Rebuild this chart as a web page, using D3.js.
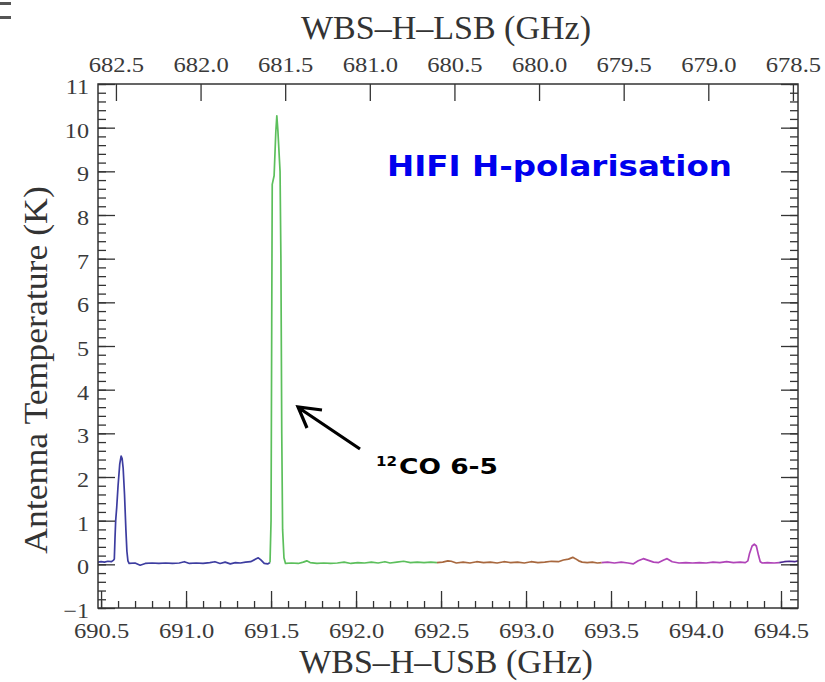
<!DOCTYPE html>
<html>
<head>
<meta charset="utf-8">
<script src="https://cdn.jsdelivr.net/npm/d3@7"></script>
<style>
  body { margin: 0; background: #fff; }
</style>
</head>
<body>
<div id="chart"></div>
<script>
// spectrum pieces, [USB frequency (GHz), antenna temperature (K)]
const bandBlue = [
  [690.482,0.05],[690.50,0.06],[690.52,0.05],[690.54,0.07],[690.56,0.06],[690.572,0.09],[690.578,0.12],
  [690.582,0.6],[690.586,1.0],[690.592,1.3],[690.600,1.8],[690.610,2.3],[690.618,2.48],[690.624,2.42],
  [690.630,2.2],[690.638,1.6],[690.646,0.8],[690.652,0.3],[690.658,0.08],[690.665,0.02],[690.70,0.03],
  [690.73,-0.02],[690.76,0.02],[690.80,0.03],[690.84,0.02],[690.88,0.03],[690.92,0.02],[690.96,0.03],
  [690.99,0.06],[691.02,0.02],[691.06,0.03],[691.10,0.02],[691.14,0.04],[691.17,0.06],[691.20,0.02],
  [691.23,0.05],[691.26,0.01],[691.29,0.04],[691.32,0.03],[691.35,0.05],[691.38,0.06],[691.41,0.12],
  [691.425,0.15],[691.44,0.10],[691.46,0.02],[691.48,0.01],[691.494,0.04]
];
const bandGreen = [
  [691.494,0.04],[691.500,1.0],[691.504,5.5],[691.507,8.7],[691.518,8.9],[691.528,9.9],[691.534,10.27],
  [691.540,9.95],[691.553,9.0],[691.558,7.0],[691.563,3.0],[691.568,0.8],[691.576,0.15],[691.585,0.02],
  [691.62,0.03],[691.66,0.02],[691.69,0.05],[691.71,0.08],[691.73,0.04],[691.77,0.02],[691.81,0.03],
  [691.85,0.02],[691.89,0.03],[691.93,0.05],[691.97,0.02],[692.01,0.04],[692.05,0.03],[692.09,0.05],
  [692.13,0.03],[692.17,0.06],[692.20,0.03],[692.24,0.05],[692.28,0.07],[692.32,0.04],[692.36,0.05],
  [692.40,0.04],[692.44,0.05],[692.476,0.04]
];
const bandOrange = [
  [692.476,0.04],[692.51,0.05],[692.54,0.08],[692.56,0.07],[692.59,0.03],[692.63,0.05],[692.67,0.03],
  [692.71,0.06],[692.75,0.04],[692.79,0.05],[692.83,0.03],[692.87,0.06],[692.91,0.04],[692.95,0.05],
  [692.99,0.03],[693.03,0.06],[693.07,0.04],[693.11,0.05],[693.15,0.07],[693.19,0.06],[693.22,0.10],
  [693.25,0.12],[693.275,0.16],[693.29,0.13],[693.31,0.08],[693.33,0.05],[693.36,0.04],[693.39,0.05],
  [693.42,0.03],[693.445,0.04]
];
const bandMagenta = [
  [693.445,0.04],[693.48,0.05],[693.52,0.03],[693.56,0.05],[693.60,0.03],[693.63,0.01],[693.66,0.08],
  [693.69,0.13],[693.72,0.09],[693.75,0.05],[693.78,0.04],[693.81,0.10],[693.83,0.13],[693.86,0.06],
  [693.90,0.03],[693.94,0.04],[693.98,0.03],[694.02,0.04],[694.06,0.03],[694.10,0.05],[694.14,0.04],
  [694.18,0.06],[694.22,0.04],[694.26,0.05],[694.29,0.04],[694.305,0.08],[694.315,0.25],[694.33,0.42],
  [694.343,0.46],[694.355,0.42],[694.368,0.2],[694.378,0.06],[694.39,0.03],[694.42,0.04],[694.46,0.03],
  [694.49,0.04]
];
const bandIndigo = [[694.49,0.04],[694.52,0.06],[694.55,0.07],[694.58,0.06],[694.60,0.08]];

const usbTicks = [690.5, 691.0, 691.5, 692.0, 692.5, 693.0, 693.5, 694.0, 694.5];
const lsbTicks = [682.5, 682.0, 681.5, 681.0, 680.5, 680.0, 679.5, 679.0, 678.5];
const tempTicks = [-1, 0, 1, 2, 3, 4, 5, 6, 7, 8, 9, 10, 11];

const width = 825, height = 682;
const margin = {top: 84, right: 27, bottom: 74, left: 98};
const serif = "'Liberation Serif', 'Times New Roman', serif";

const svg = d3.select('#chart').append('svg')
  .attr('width', width)
  .attr('height', height);

const xUsb = d3.scaleLinear().domain([690.482, 694.6]).range([margin.left, width - margin.right]);
const xLsb = d3.scaleLinear().domain([682.606, 678.47]).range([margin.left, width - margin.right]);
const y = d3.scaleLinear().domain([-1, 11]).range([height - margin.bottom, margin.top]);

// widen serif text a little, the original font runs wide
function stretch(sel, k) {
  sel.each(function() {
    const L = this.getComputedTextLength();
    d3.select(this).attr('textLength', L * k).attr('lengthAdjust', 'spacingAndGlyphs');
  });
}

// scrap of page in the corner
svg.append('rect').attr('x', 0).attr('y', 2).attr('width', 11).attr('height', 3).attr('fill', '#555');
svg.append('rect').attr('x', 0).attr('y', 16).attr('width', 11).attr('height', 3).attr('fill', '#555');

svg.append('clipPath').attr('id', 'plot-clip')
  .append('rect')
  .attr('x', margin.left).attr('y', margin.top)
  .attr('width', width - margin.left - margin.right)
  .attr('height', height - margin.top - margin.bottom);

// spectrum
const line = d3.line().x(d => xUsb(d[0])).y(d => y(d[1]));
const bands = [
  {data: bandBlue, color: '#3d3da0'},
  {data: bandGreen, color: '#5cbf5c'},
  {data: bandOrange, color: '#a8683e'},
  {data: bandMagenta, color: '#b044b8'},
  {data: bandIndigo, color: '#4a2690'}
];
svg.append('g').attr('clip-path', 'url(#plot-clip)')
  .selectAll('path')
  .data(bands)
  .join('path')
  .attr('d', d => line(d.data))
  .attr('fill', 'none')
  .attr('stroke', d => d.color)
  .attr('stroke-width', 1.7)
  .attr('stroke-linejoin', 'round');

const axisColor = '#333';
const bottomY = height - margin.bottom;
const rightX = width - margin.right;

function styleAxis(g) {
  g.select('.domain').remove();
  g.selectAll('line').attr('stroke', axisColor).attr('stroke-width', 1.3);
}

// minor ticks
const usbMinor = d3.range(0, 42).map(i => 690.5 + i * 0.1).filter(v => v < 694.59);
const tempMinor = d3.range(0, 61).map(i => -1 + i * 0.2);

svg.append('g')
  .attr('transform', `translate(0,${bottomY})`)
  .call(d3.axisBottom(xUsb).tickValues(usbMinor).tickSize(-7).tickFormat(''))
  .call(styleAxis);

svg.append('g')
  .attr('transform', `translate(${margin.left},0)`)
  .call(d3.axisLeft(y).tickValues(tempMinor).tickSize(-8).tickFormat(''))
  .call(styleAxis);

svg.append('g')
  .attr('transform', `translate(${rightX},0)`)
  .call(d3.axisRight(y).tickValues(tempMinor).tickSize(-8).tickFormat(''))
  .call(styleAxis);

// major ticks with labels
const gBottom = svg.append('g')
  .attr('transform', `translate(0,${bottomY})`)
  .call(d3.axisBottom(xUsb).tickValues(usbTicks).tickSize(-17).tickFormat(d3.format('.1f')))
  .call(styleAxis);
gBottom.selectAll('text')
  .attr('y', 30).attr('dy', 0)
  .attr('fill', '#3a3a3a')
  .style('font-family', serif).style('font-size', '21px')
  .call(stretch, 1.17);

const gTop = svg.append('g')
  .attr('transform', `translate(0,${margin.top})`)
  .call(d3.axisTop(xLsb).tickValues(lsbTicks).tickSize(-17).tickFormat(d3.format('.1f')))
  .call(styleAxis);
gTop.selectAll('text')
  .attr('y', -12).attr('dy', 0)
  .attr('fill', '#3a3a3a')
  .style('font-family', serif).style('font-size', '21px')
  .call(stretch, 1.17);

const gLeft = svg.append('g')
  .attr('transform', `translate(${margin.left},0)`)
  .call(d3.axisLeft(y).tickValues(tempTicks).tickSize(-17))
  .call(styleAxis);
gLeft.selectAll('text')
  .attr('x', -9).attr('dy', '0.45em')
  .attr('fill', '#3a3a3a')
  .style('font-family', serif).style('font-size', '21px')
  .call(stretch, 1.15);

svg.append('g')
  .attr('transform', `translate(${rightX},0)`)
  .call(d3.axisRight(y).tickValues(tempTicks).tickSize(-17).tickFormat(''))
  .call(styleAxis);

// frame
svg.append('rect')
  .attr('x', margin.left).attr('y', margin.top)
  .attr('width', rightX - margin.left)
  .attr('height', bottomY - margin.top)
  .attr('fill', 'none')
  .attr('stroke', axisColor)
  .attr('stroke-width', 1.5);

// axis titles
svg.append('text')
  .attr('x', 446).attr('y', 39)
  .attr('text-anchor', 'middle')
  .attr('fill', '#333')
  .style('font-family', serif).style('font-size', '34px')
  .text('WBS–H–LSB (GHz)');

svg.append('text')
  .attr('x', 446).attr('y', 673)
  .attr('text-anchor', 'middle')
  .attr('fill', '#333')
  .style('font-family', serif).style('font-size', '34px')
  .text('WBS–H–USB (GHz)');

svg.append('text')
  .attr('transform', 'translate(47,370) rotate(-90)')
  .attr('text-anchor', 'middle')
  .attr('fill', '#333')
  .style('font-family', serif).style('font-size', '34px')
  .text('Antenna Temperature (K)')
  .call(stretch, 1.05);

// annotations
svg.append('text')
  .attr('x', 387).attr('y', 176)
  .attr('fill', '#0000ee')
  .attr('textLength', 345).attr('lengthAdjust', 'spacingAndGlyphs')
  .style('font-family', "'DejaVu Sans', Verdana, sans-serif")
  .style('font-weight', 'bold').style('font-size', '29px')
  .text('HIFI H-polarisation');

svg.append('text')
  .attr('x', 376).attr('y', 466)
  .attr('fill', '#000')
  .attr('textLength', 21).attr('lengthAdjust', 'spacingAndGlyphs')
  .style('font-family', "'DejaVu Sans', Verdana, sans-serif")
  .style('font-weight', 'bold').style('font-size', '14px')
  .text('12');

svg.append('text')
  .attr('x', 399).attr('y', 474)
  .attr('fill', '#000')
  .attr('textLength', 99).attr('lengthAdjust', 'spacingAndGlyphs')
  .style('font-family', "'DejaVu Sans', Verdana, sans-serif")
  .style('font-weight', 'bold').style('font-size', '22px')
  .text('CO 6-5');

svg.append('path')
  .attr('d', 'M360,449 L299,408 M322,410 L298,407 L307,428')
  .attr('fill', 'none')
  .attr('stroke', '#000')
  .attr('stroke-width', 3.2)
  .attr('stroke-linejoin', 'miter');
</script>
</body>
</html>
